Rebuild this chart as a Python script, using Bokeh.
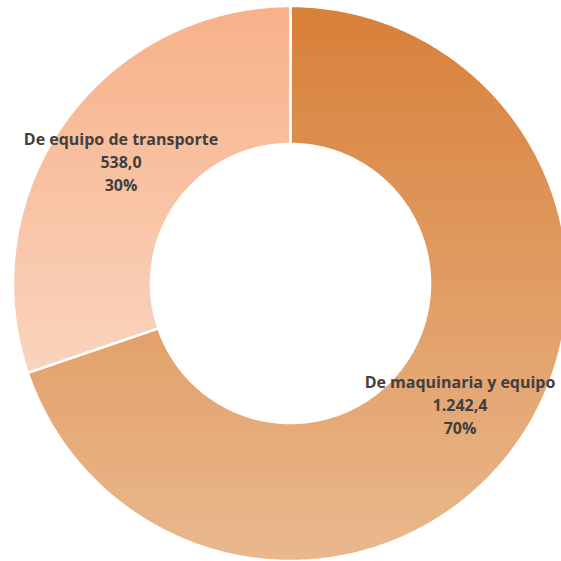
import numpy as np
from bokeh.plotting import figure
from bokeh.models import Range1d, ColumnDataSource
from bokeh.core.properties import value
from bokeh.embed import file_html
from bokeh.resources import INLINE

# ---- data ----
categories = ["De maquinaria y equipo", "De equipo de transporte"]
values = [1242.4, 538.0]
value_labels = ["1.242,4", "538,0"]
pct_labels = ["70%", "30%"]
top_colors = ["#D8803A", "#F7B189"]
bottom_colors = ["#EAB98E", "#FAD4BE"]

# ---- geometry (data units == pixels) ----
R_OUT = 277.5
R_IN = 139.5
N_BANDS = 70

p = figure(width=561, height=561, output_backend="svg", toolbar_location=None,
           x_range=Range1d(-290, 271), y_range=Range1d(-278, 283),
           min_border=0, outline_line_color=None, background_fill_color="white",
           border_fill_color="white")
p.axis.visible = False
p.grid.visible = False

vals = np.array(values, dtype=float)
fracs = vals / vals.sum()
ends = np.cumsum(fracs) * 2 * np.pi
starts = ends - fracs * 2 * np.pi
# clockwise from 12 o'clock -> math angles
m_start = np.pi / 2 - ends
m_end = np.pi / 2 - starts

src = ColumnDataSource(dict(x=[0] * len(vals), y=[0] * len(vals),
                            start=m_start, end=m_end, color=top_colors))
p.annular_wedge(x="x", y="y", inner_radius=R_IN, outer_radius=R_OUT,
                start_angle="start", end_angle="end", fill_color="color",
                line_color=None, source=src)


def hex2rgb(h):
    h = h.lstrip("#")
    return np.array([int(h[i:i + 2], 16) for i in (0, 2, 4)], dtype=float)


def rgb2hex(c):
    return "#%02x%02x%02x" % tuple(int(round(v)) for v in c)


def ring_poly(a0, a1, n=300):
    t = np.linspace(a0, a1, n)
    xs = np.concatenate([R_OUT * np.cos(t), R_IN * np.cos(t[::-1])])
    ys = np.concatenate([R_OUT * np.sin(t), R_IN * np.sin(t[::-1])])
    return xs, ys


def clip_below(xs, ys, yc):
    ox, oy = [], []
    n = len(xs)
    for i in range(n):
        x1, y1 = xs[i], ys[i]
        x2, y2 = xs[(i + 1) % n], ys[(i + 1) % n]
        in1, in2 = y1 <= yc, y2 <= yc
        if in1:
            ox.append(x1); oy.append(y1)
        if in1 != in2:
            t = (yc - y1) / (y2 - y1)
            ox.append(x1 + t * (x2 - x1)); oy.append(yc)
    return ox, oy


bx, by, bc = [], [], []
outline_x, outline_y = [], []
for i in range(len(vals)):
    xs, ys = ring_poly(m_start[i], m_end[i])
    outline_x.append(list(xs)); outline_y.append(list(ys))
    ytop, ybot = ys.max(), ys.min()
    c0, c1 = hex2rgb(top_colors[i]), hex2rgb(bottom_colors[i])
    for k in range(1, N_BANDS):
        f = k / (N_BANDS - 1)
        yc = ytop - f * (ytop - ybot)
        cx, cy = clip_below(xs, ys, yc)
        if len(cx) < 3:
            continue
        bx.append(cx); by.append(cy); bc.append(rgb2hex(c0 + (c1 - c0) * f))

p.patches(xs=bx, ys=by, fill_color=bc, line_color=None)
p.patches(xs=outline_x, ys=outline_y, fill_alpha=0, line_color="white", line_width=2.5)

# ---- labels at mid-angle, mid-ring ----
mid = (m_start + m_end) / 2
r_lab = (R_IN + R_OUT) / 2
lx = r_lab * np.cos(mid)
ly = r_lab * np.sin(mid)
lab = ColumnDataSource(dict(x=lx, y=ly, cat=categories, val=value_labels, pct=pct_labels))
common = dict(x="x", y="y", source=lab, text_align="center", text_baseline="middle",
              text_font=value("Open Sans"), text_font_style="bold", text_font_size="16px",
              text_color="#404040")
p.text(text="cat", y_offset=-23, **common)
p.text(text="val", y_offset=0, **common)
p.text(text="pct", y_offset=23, **common)

open("out.html", "w").write(file_html(p, INLINE))
